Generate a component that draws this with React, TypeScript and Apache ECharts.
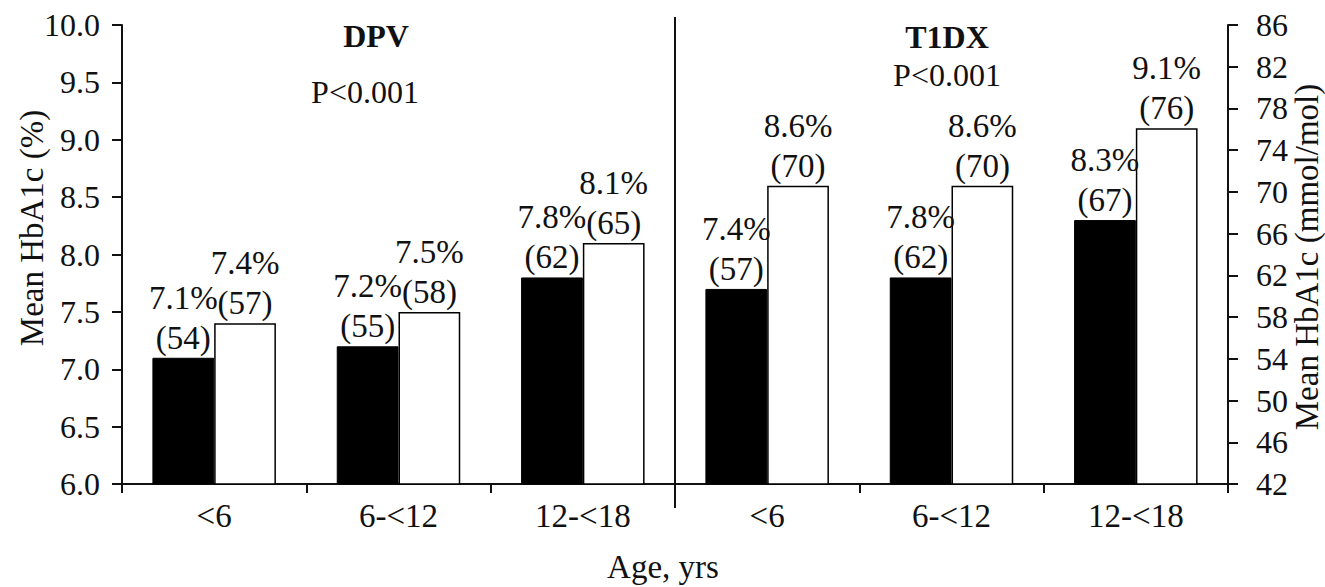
import React, { useEffect, useRef } from "react";
import * as echarts from "echarts";

const categories = ["<6", "6-<12", "12-<18", "<6", "6-<12", "12-<18"];
const blackValues = [7.1, 7.2, 7.8, 7.7, 7.8, 8.3];
const whiteValues = [7.4, 7.5, 8.1, 8.6, 8.6, 9.1];
const blackPct = ["7.1%", "7.2%", "7.8%", "7.4%", "7.8%", "8.3%"];
const blackMmol = ["(54)", "(55)", "(62)", "(57)", "(62)", "(67)"];
const whitePct = ["7.4%", "7.5%", "8.1%", "8.6%", "8.6%", "9.1%"];
const whiteMmol = ["(57)", "(58)", "(65)", "(70)", "(70)", "(76)"];
const leftMin = 6.0;
const leftMax = 10.0;
const leftStep = 0.5;
const rightTicks = [42, 46, 50, 54, 58, 62, 66, 70, 74, 78, 82, 86];
const rightStep = 4;
const panelTitles = ["DPV", "T1DX"];
const panelPValues = ["P<0.001", "P<0.001"];
const leftTitle = "Mean HbA1c (%)";
const rightTitle = "Mean HbA1c (mmol/mol)";
const xTitle = "Age, yrs";

const FONT = "Liberation Serif";
const INK = "#111";
const W = 1325;
const H = 587;
const GL = 122;
const GR = 97;
const GT = 25;
const GB = 103;

export default function App() {
  const ref = useRef<HTMLDivElement>(null);
  useEffect(() => {
    document.body.style.margin = "0";
    if (!ref.current) return;
    const chart = echarts.init(ref.current, undefined, { renderer: "svg" });
    const gridW = W - GL - GR;
    const divX = GL + gridW / 2;
    const labelStyle = {
      show: true,
      position: "top" as const,
      distance: 0,
      fontFamily: FONT,
      fontSize: 33,
      lineHeight: 40,
      color: INK,
    };
    const txt = (x: number, y: number, text: string, font: string, rotation = 0) => ({
      type: "text",
      x,
      y,
      rotation,
      style: {
        text,
        font,
        fill: INK,
        textAlign: "center",
        textVerticalAlign: "middle",
      },
    });
    chart.setOption({
      animation: false,
      backgroundColor: "#fff",
      textStyle: { fontFamily: FONT },
      grid: { left: GL, right: GR, top: GT, bottom: GB, containLabel: false },
      xAxis: {
        type: "category",
        data: categories,
        boundaryGap: true,
        axisLine: { show: true, lineStyle: { color: INK, width: 2 } },
        axisTick: { show: true, inside: false, length: 9, lineStyle: { color: INK, width: 2 } },
        axisLabel: { fontFamily: FONT, fontSize: 33, color: INK, margin: 15 },
      },
      yAxis: [
        {
          type: "value",
          min: leftMin,
          max: leftMax,
          interval: leftStep,
          position: "left",
          splitLine: { show: false },
          axisLine: { show: true, lineStyle: { color: INK, width: 2 } },
          axisTick: { show: true, inside: false, length: 10, lineStyle: { color: INK, width: 2 } },
          axisLabel: {
            fontFamily: FONT,
            fontSize: 32,
            color: INK,
            margin: 22,
            formatter: (v: number) => v.toFixed(1),
          },
        },
        {
          type: "value",
          min: 0,
          max: (rightTicks.length - 1) * rightStep,
          interval: rightStep,
          position: "right",
          splitLine: { show: false },
          axisLine: { show: true, lineStyle: { color: INK, width: 2 } },
          axisTick: { show: true, inside: false, length: 10, lineStyle: { color: INK, width: 2 } },
          axisLabel: {
            fontFamily: FONT,
            fontSize: 32,
            color: INK,
            margin: 28,
            formatter: (v: number) => String(rightTicks[Math.round(v / rightStep)]),
          },
        },
      ],
      series: [
        {
          type: "bar",
          yAxisIndex: 0,
          data: blackValues,
          barGap: "0%",
          barCategoryGap: "33%",
          itemStyle: { color: "#000", borderColor: "#000", borderWidth: 1 },
          label: {
            ...labelStyle,
            formatter: (p: any) => `${blackPct[p.dataIndex]}\n${blackMmol[p.dataIndex]}`,
          },
        },
        {
          type: "bar",
          yAxisIndex: 0,
          data: whiteValues,
          barGap: "0%",
          barCategoryGap: "33%",
          itemStyle: { color: "#fff", borderColor: "#000", borderWidth: 1.5 },
          label: {
            ...labelStyle,
            formatter: (p: any) => `${whitePct[p.dataIndex]}\n${whiteMmol[p.dataIndex]}`,
          },
        },
      ],
      graphic: [
        {
          type: "line",
          shape: { x1: divX, y1: 17, x2: divX, y2: 508 },
          style: { stroke: INK, lineWidth: 2 },
        },
        txt(376, 36, panelTitles[0], `bold 32px ${FONT}`),
        txt(365, 92, panelPValues[0], `32px ${FONT}`),
        txt(947, 37, panelTitles[1], `bold 32px ${FONT}`),
        txt(947, 75, panelPValues[1], `32px ${FONT}`),
        txt(663, 567, xTitle, `33px ${FONT}`),
        txt(32, 228, leftTitle, `33px ${FONT}`, Math.PI / 2),
        txt(1307, 257, rightTitle, `33px ${FONT}`, Math.PI / 2),
      ],
    });
    return () => chart.dispose();
  }, []);
  return <div ref={ref} style={{ width: W, height: H }} />;
}
